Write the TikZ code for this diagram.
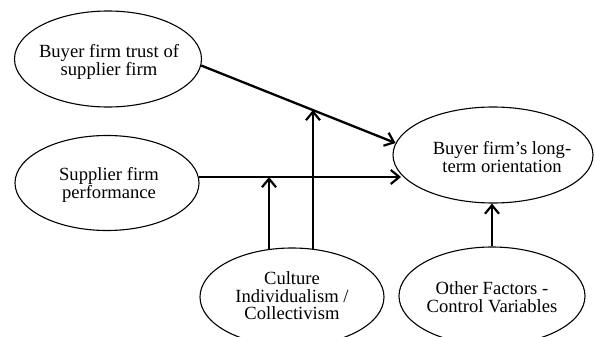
\documentclass[tikz,border=0pt]{standalone}
\usepackage{fontspec}
\setmainfont{Liberation Serif}
\usetikzlibrary{shapes.geometric,arrows.meta}
\begin{document}
\begin{tikzpicture}[x=1pt,y=-1pt,
  oval/.style={ellipse,draw,line width=1.1pt,inner sep=0pt},
  lbl/.style={align=center,inner sep=0pt,font=\fontsize{18.6}{17.5}\selectfont},
  arr/.style={line width=2.3pt,-{Straight Barb[length=8.5pt,width=14pt,line width=2.2pt]}}]
\useasboundingbox (0,0) rectangle (595,337);
\clip (0,0) rectangle (595,337);
\node[oval,minimum width=187pt,minimum height=96pt] (trust) at (108,59) {};
\node[lbl] (trustt) at (109,62) {Buyer firm trust of\\supplier firm};
\node[oval,minimum width=184pt,minimum height=95pt] (supp) at (107,183) {};
\node[lbl] (suppt) at (109,185) {Supplier firm\\performance};
\node[oval,minimum width=200pt,minimum height=96pt] (lto) at (493,155) {};
\node[lbl] (ltot) at (502,157) {Buyer firm’s long-\\term orientation};
\node[oval,minimum width=184pt,minimum height=98pt] (cult) at (292,297) {};
\node[lbl] (cultt) at (292,296) {Culture\\Individualism /\\Collectivism};
\node[oval,minimum width=186pt,minimum height=98pt] (other) at (492,296) {};
\node[lbl] (othert) at (492,297) {Other Factors -\\Control Variables};
\coordinate (m1) at (313,110);
\coordinate (h1) at (269,177);
\coordinate (h2) at (401,177);
\draw[arr] (trust.-4) -- (lto.173);
\draw[arr] (supp.4 |- h1) -- (h2);
\draw[arr] (m1 |- cult.66) -- (m1);
\draw[arr] (h1 |- cult.115) -- (h1);
\draw[arr] (other.north) -- (other.north |- lto.south);
\end{tikzpicture}
\end{document}
